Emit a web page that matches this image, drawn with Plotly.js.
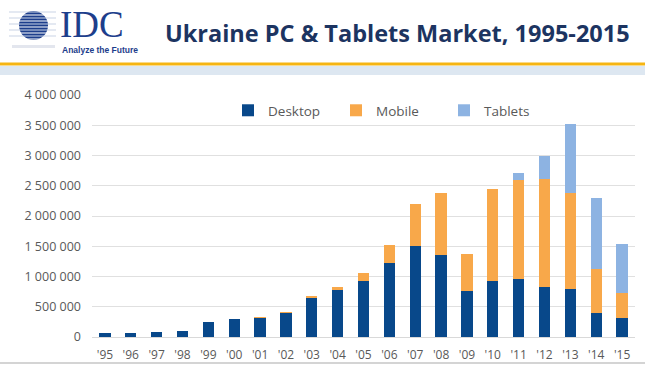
<!DOCTYPE html>
<html><head><meta charset="utf-8">
<script src="https://cdn.plot.ly/plotly-3.0.1.min.js"></script>
<style>html,body{margin:0;padding:0;background:#fff;}#chart{width:645px;height:380px;}</style>
</head><body><div id="chart"></div>
<script>
const years = ["'95","'96","'97","'98","'99","'00","'01","'02","'03","'04","'05","'06","'07","'08","'09","'10","'11","'12","'13","'14","'15"];
const desktop = [61000,61000,85000,95000,240000,290000,322000,405000,640000,778000,926000,1218000,1509000,1355000,760000,920000,965000,826000,788000,391000,309000];
const mobile  = [3000,3000,4000,5000,8000,8000,8000,8000,37000,52000,127000,302000,689000,1020000,612000,1521000,1630000,1786000,1587000,728000,413000];
const tablets = [0,0,0,0,0,0,0,0,0,0,0,0,0,0,0,0,110000,374000,1150000,1173000,815000];
const seriesNames = ["Desktop","Mobile","Tablets"];
const yTicks = [0,500000,1000000,1500000,2000000,2500000,3000000,3500000,4000000];

const W = 645, H = 380, L = 92, R = 10, T = 95, B = 43;
const pw = W - L - R, ph = H - T - B;
const px = x => (x - L) / pw;
const py = y => (H - B - y) / ph;

const cols = ["#08488a", "#f8a84a", "#8db3e2"];
const vals = [desktop, mobile, tablets];
const traces = seriesNames.map((n, i) => ({
  type: 'bar', name: n, x: years, y: vals[i],
  marker: {color: cols[i]}, hoverinfo: 'x+y+name'
}));

const shapes = [];
// header lines
shapes.push({type:'rect', xref:'paper', yref:'paper', x0:px(0), x1:px(W), y0:py(66), y1:py(75), fillcolor:'#dde7f1', line:{width:0}, layer:'below'});
shapes.push({type:'line', xref:'paper', yref:'paper', x0:px(0), x1:px(W), y0:py(64), y1:py(64), line:{color:'#f6b512', width:3}});
shapes.push({type:'line', xref:'paper', yref:'paper', x0:px(0), x1:px(W), y0:py(363), y1:py(363), line:{color:'#d4d4d4', width:2}});
// logo globe
shapes.push({type:'circle', xref:'paper', yref:'paper', x0:px(19), x1:px(48), y0:py(11), y1:py(40), fillcolor:'#1d3e8c', line:{width:0}});
for (let k = 0; k < 10; k++) {
  const yy = 12 + k * 3;
  shapes.push({type:'line', xref:'paper', yref:'paper', x0:px(9), x1:px(56), y0:py(yy), y1:py(yy), line:{color: k%2 ? '#ffffff' : '#c9d3e6', width:1.2}});
}
shapes.push({type:'rect', xref:'paper', yref:'paper', x0:px(12), x1:px(55), y0:py(45), y1:py(48), fillcolor:'#e3e6ee', line:{width:0}});

const annotations = [
  {text:'<b>Ukraine PC &amp; Tablets Market, 1995-2015</b>', xref:'paper', yref:'paper', x:px(397), y:py(33), xanchor:'center', yanchor:'middle', showarrow:false, font:{family:'Open Sans', size:23.5, color:'#1c3461'}},
  {text:'IDC', xref:'paper', yref:'paper', x:px(58), y:py(24), xanchor:'left', yanchor:'middle', showarrow:false, font:{family:'Liberation Serif', size:37, color:'#1d3e8c'}},
  {text:'<b>Analyze the Future</b>', xref:'paper', yref:'paper', x:px(60), y:py(50), xanchor:'left', yanchor:'middle', showarrow:false, font:{family:'Liberation Sans Narrow, Liberation Sans', size:8.5, color:'#1d3e8c'}}
];

const layout = {
  width: W, height: H,
  margin: {l: L, r: R, t: T, b: B, pad: 0},
  paper_bgcolor: '#ffffff', plot_bgcolor: '#ffffff',
  barmode: 'stack', bargap: 0.56,
  separators: ', ',
  font: {family: 'Open Sans', size: 12, color: '#595959'},
  showlegend: true,
  legend: {orientation: 'h', x: px(228), y: py(95), xanchor: 'left', yanchor: 'top',
    font: {size: 13.5, color: '#595959'}, entrywidth: 63, entrywidthmode: 'pixels',
    bgcolor: 'rgba(0,0,0,0)', itemclick: false, traceorder: 'normal'},
  xaxis: {type: 'category', tickfont: {size: 12, color: '#595959'}, ticks: '', showgrid: false,
    showline: true, linecolor: '#d9d9d9', linewidth: 1, ticklabelstandoff: 7, fixedrange: true},
  yaxis: {range: [0, 4000000], tickvals: yTicks, tickformat: ',d', showgrid: true, gridcolor: '#e0e0e0',
    gridwidth: 1, zeroline: false, ticks: '', ticklabelstandoff: 10, tickfont: {size: 12.5, color: '#595959'}, fixedrange: true},
  shapes: shapes, annotations: annotations
};
Plotly.newPlot('chart', traces, layout, {displayModeBar: false, staticPlot: true});
</script></body></html>
